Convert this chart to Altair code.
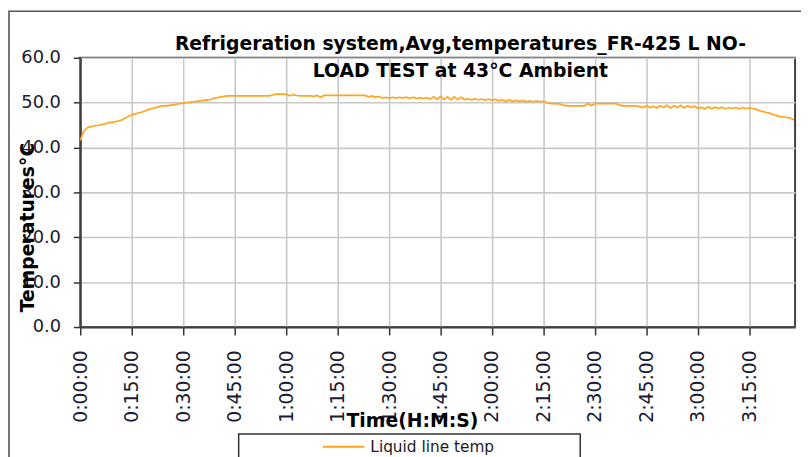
import altair as alt
import pandas as pd

# ---- data ----
series_name = "Liquid line temp"
sample_step_min = 1  # one sample per minute
temps = [
    41.6, 43.6, 44.4, 44.6, 44.8, 44.9, 45.1, 45.2, 45.5, 45.6,
    45.7, 45.9, 46.1, 46.5, 46.9, 47.3, 47.5, 47.7, 47.9, 48.2,
    48.5, 48.7, 48.9, 49.1, 49.3, 49.3, 49.4, 49.5, 49.6, 49.8,
    49.9, 50.0, 50.1, 50.2, 50.3, 50.4, 50.5, 50.6, 50.7, 51.0,
    51.1, 51.3, 51.4, 51.5, 51.5,
    51.5, 51.5, 51.5, 51.5, 51.5, 51.5, 51.5, 51.5, 51.5, 51.5, 51.5,
    51.7, 51.9, 51.9, 51.9, 51.9, 51.5, 51.8, 51.6, 51.5, 51.5,
    51.5, 51.5, 51.4, 51.6, 51.2, 51.6,
    51.6, 51.6, 51.6, 51.6, 51.6, 51.6, 51.6, 51.6, 51.6, 51.6, 51.6, 51.6,
    51.3, 51.5, 51.2, 51.4, 51.0, 51.2, 51.0, 51.2, 51.0, 51.2,
    51.0, 51.2, 50.9, 51.2, 50.9, 51.1, 50.9, 51.1, 50.8, 51.3,
    50.7, 51.4, 50.7, 51.3, 50.6, 51.3, 50.7, 51.2, 50.7, 50.9,
    50.6, 50.9, 50.6, 50.8, 50.5, 50.8, 50.5, 50.7, 50.4, 50.6,
    50.3, 50.6, 50.3, 50.5, 50.3, 50.5, 50.2, 50.4, 50.2, 50.4,
    50.2, 50.3, 50.0, 49.8, 49.8, 49.8, 49.6, 49.4, 49.3, 49.3,
    49.3, 49.3, 49.3, 49.3, 49.8, 49.3, 49.8, 49.8, 49.8, 49.8,
    49.8, 49.8, 49.8, 49.5, 49.3, 49.3, 49.3, 49.3, 49.3, 49.1,
    48.9, 49.3, 48.9, 49.2, 48.8, 49.3, 48.9, 49.4, 48.8, 49.3,
    48.9, 49.4, 48.8, 49.3, 48.9, 49.2, 48.7, 49.0, 48.6, 49.1,
    48.7, 49.0, 48.7, 49.0, 48.6, 48.9, 48.7, 48.9, 48.6, 48.9,
    48.7, 48.8, 48.7, 48.5, 48.2, 48.0, 47.8, 47.6, 47.3, 47.1,
    46.9, 46.8, 46.7, 46.5, 46.2,
]
minutes = [i * sample_step_min for i in range(len(temps))]
x_tick_minutes = [0, 15, 30, 45, 60, 75, 90, 105, 120, 135, 150, 165, 180, 195]
y_ticks = [0, 10, 20, 30, 40, 50, 60]
title_lines = ["Refrigeration system,Avg,temperatures_FR-425  L NO-",
               "LOAD TEST at 43°C Ambient"]

df = pd.DataFrame({"minute": minutes, "temp": temps, "series": series_name})
one = pd.DataFrame({"k": [0]})

FONT = "DejaVu Sans"
ORANGE = "#ffa51f"

line = alt.Chart(df).mark_line(strokeWidth=1.7, clip=False).encode(
    x=alt.X("minute:Q",
            scale=alt.Scale(domain=[0, 208.3], nice=False, zero=False),
            axis=alt.Axis(
                values=x_tick_minutes,
                labelExpr="floor(datum.value/60) + ':' + ((datum.value % 60) < 10 ? '0' : '') + (datum.value % 60) + ':00'",
                labelAngle=270, labelFontSize=19, labelFont=FONT, labelColor="#1a1a33",
                labelPadding=15, tickSize=8, tickColor="#333333", tickWidth=1.5,
                domainColor="#404040", domainWidth=2,
                grid=True, gridColor="#c8c8c8", gridWidth=1.6,
                title="Time(H:M:S)", titleFont=FONT, titleFontSize=19, titleFontWeight="bold",
                titleColor="#000000", titleX=335, titleY=94, titleBaseline="middle",
                titleAlign="center", labelOverlap=False, labelFlush=False)),
    y=alt.Y("temp:Q",
            scale=alt.Scale(domain=[0, 60], nice=False),
            axis=alt.Axis(
                values=y_ticks, format=".1f",
                labelFontSize=18, labelFont=FONT, labelColor="#1a1a33",
                labelPadding=13, tickSize=7, tickColor="#333333", tickWidth=1.5,
                domainColor="#404040", domainWidth=2,
                grid=True, gridColor="#c8c8c8", gridWidth=1.6,
                title="Temperatures°C", titleFont=FONT, titleFontSize=19, titleFontWeight="bold",
                titleColor="#000000", titleX=-53, titleY=171, titleAngle=270,
                titleBaseline="middle", titleAlign="center", labelOverlap=False)),
    color=alt.Color("series:N",
                    scale=alt.Scale(domain=[series_name], range=[ORANGE]),
                    legend=alt.Legend(title=None, orient="none", legendX=244, legendY=371,
                                      symbolType="stroke", symbolSize=1764, symbolStrokeWidth=2,
                                      labelFontSize=15.5, labelFont=FONT, labelColor="#1a1a1a",
                                      labelOffset=5, padding=0)),
)

outer_frame = alt.Chart(one).mark_rect(filled=False, stroke="#555555", strokeWidth=1.6).encode(
    x=alt.value(-72), x2=alt.value(735), y=alt.value(-47), y2=alt.value(430))

legend_box = alt.Chart(one).mark_rect(filled=False, stroke="#333333", strokeWidth=1.5).encode(
    x=alt.value(160), x2=alt.value(505), y=alt.value(380), y2=alt.value(430))

chart = alt.layer(outer_frame, legend_box, line).properties(
    width=722, height=272,
    autosize=alt.AutoSizeParams(type="none"),
    padding={"left": 73, "top": 48, "right": 6, "bottom": 129},
    background="white",
    title=alt.TitleParams(text=title_lines, font=FONT, fontSize=19, fontWeight="bold",
                          color="#000000", anchor="middle", frame="group", dx=23,
                          dy=49, offset=-22, lineHeight=27),
).configure_view(stroke="#404040", strokeWidth=2)

chart.save("out.html", embed_options={"renderer": "svg", "actions": False})
